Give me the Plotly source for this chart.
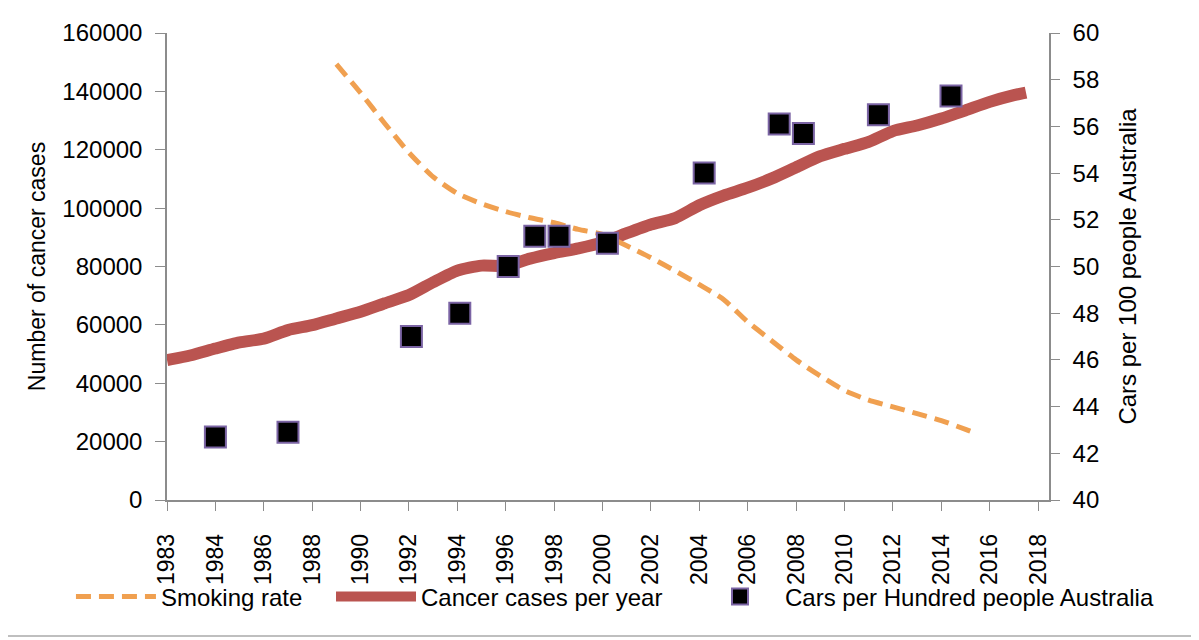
import plotly.graph_objects as go

# cancer cases per year (left axis)
cancer_years = [1982, 1983, 1984, 1985, 1986, 1987, 1988, 1989, 1990, 1991, 1992, 1993,
                1994, 1995, 1996, 1997, 1998, 1999, 2000, 2001, 2002, 2003, 2004, 2005,
                2006, 2007, 2008, 2009, 2010, 2011, 2012, 2013, 2014, 2015, 2016, 2017, 2017.5]
cancer_cases = [47950, 49600, 51900, 54000, 55300, 58200, 59900, 62200, 64500, 67400, 70200, 74600,
                78600, 80300, 80200, 82700, 84600, 86200, 88200, 91400, 94400, 96600, 101000, 104300,
                107000, 110200, 114000, 117800, 120300, 122700, 126400, 128300, 130700, 133500, 136400, 138700, 139600]

# smoking rate (plotted on the left scale)
smoking_years = [1989, 1990, 1991, 1992, 1993, 1994, 1995, 1996, 1997, 1998, 1999, 2000, 2001,
                 2002, 2003, 2004, 2005, 2006, 2007, 2008, 2009, 2010, 2011, 2012, 2013, 2014, 2015, 2015.5]
smoking_rate = [149300, 139500, 129000, 119000, 110700, 105000, 101500, 98800, 96700, 95000, 92700, 91000, 87100,
                83000, 78500, 73800, 68700, 61000, 54500, 48000, 42500, 37500, 34200, 31900, 29600, 27200, 24200, 22600]

# cars per hundred people (right axis)
car_years = [1984.0, 1987.0, 1992.1, 1994.1, 1996.1, 1997.2, 1998.2, 2000.2, 2004.2, 2007.3, 2008.3, 2011.4, 2014.4]
cars_per_100 = [42.7, 42.9, 47.0, 48.0, 50.0, 51.3, 51.3, 51.0, 54.0, 56.1, 55.7, 56.5, 57.3]

x_tick_vals = [1982, 1984, 1986, 1988, 1990, 1992, 1994, 1996, 1998, 2000,
               2002, 2004, 2006, 2008, 2010, 2012, 2014, 2016, 2018]
x_tick_text = ["1983", "1984", "1986", "1988", "1990", "1992", "1994", "1996", "1998", "2000",
               "2002", "2004", "2006", "2008", "2010", "2012", "2014", "2016", "2018"]

FONT = "Liberation Sans, Arial, sans-serif"
AXIS_GREY = "#8c8c8c"

fig = go.Figure()

fig.add_trace(go.Scatter(x=cancer_years, y=cancer_cases, mode="lines", name="Cancer cases per year",
                         line=dict(color="#BA5450", width=12, shape="spline", smoothing=0.6),
                         legend="legend2", showlegend=True))
fig.add_trace(go.Scatter(x=smoking_years, y=smoking_rate, mode="lines", name="Smoking rate",
                         line=dict(color="#F0A050", width=5, dash="15px,8px", shape="spline", smoothing=0.6),
                         legend="legend", showlegend=True))
fig.add_trace(go.Scatter(x=car_years, y=cars_per_100, mode="markers", name="Cars per Hundred people Australia",
                         marker=dict(symbol="square", size=21, color="black",
                                     line=dict(color="#7B64A4", width=2)),
                         yaxis="y2", legend="legend3", showlegend=True))

axis_common = dict(showline=True, linecolor=AXIS_GREY, linewidth=1.5, ticks="outside",
                   tickcolor=AXIS_GREY, showgrid=False, zeroline=False, automargin=False)

legend_common = dict(orientation="h", xref="container", yref="container", yanchor="middle",
                     y=0.08, font=dict(family=FONT, size=24, color="black"),
                     bgcolor="rgba(0,0,0,0)", itemwidth=80)

# the page puts the figure 8px in from the top-left corner
fig.update_layout(
    width=1199, height=640,
    margin=dict(l=159, r=158, t=25, b=148),
    plot_bgcolor="white", paper_bgcolor="white",
    showlegend=True,
    font=dict(family=FONT, size=22, color="black"),
    xaxis=dict(range=[1982, 2018.45], tickvals=x_tick_vals, ticktext=x_tick_text,
               tickangle=-90, ticklen=9, ticklabelstandoff=14,
               tickfont=dict(family=FONT, size=23, color="black"), **axis_common),
    yaxis=dict(range=[0, 160000], dtick=20000, tickformat="d", ticklen=10, ticklabelstandoff=8,
               tickfont=dict(family=FONT, size=24, color="black"),
               title=dict(text="Number of cancer cases", font=dict(family=FONT, size=23), standoff=10),
               **axis_common),
    yaxis2=dict(range=[40, 60], dtick=2, overlaying="y", side="right", ticklen=9, ticklabelstandoff=8,
                tickfont=dict(family=FONT, size=24, color="black"),
                title=dict(text="Cars per 100 people Australia", font=dict(family=FONT, size=24), standoff=21),
                **axis_common),
    legend=dict(x=0.0525, **legend_common),
    legend2=dict(x=0.2694, **legend_common),
    legend3=dict(x=0.573, **legend_common),
    shapes=[dict(type="line", xref="paper", yref="paper", x0=-0.2, x1=1.2, y0=-0.291, y1=-0.291,
                 line=dict(color="#aaaaaa", width=1.5))],
)

fig.write_html("out.html")
